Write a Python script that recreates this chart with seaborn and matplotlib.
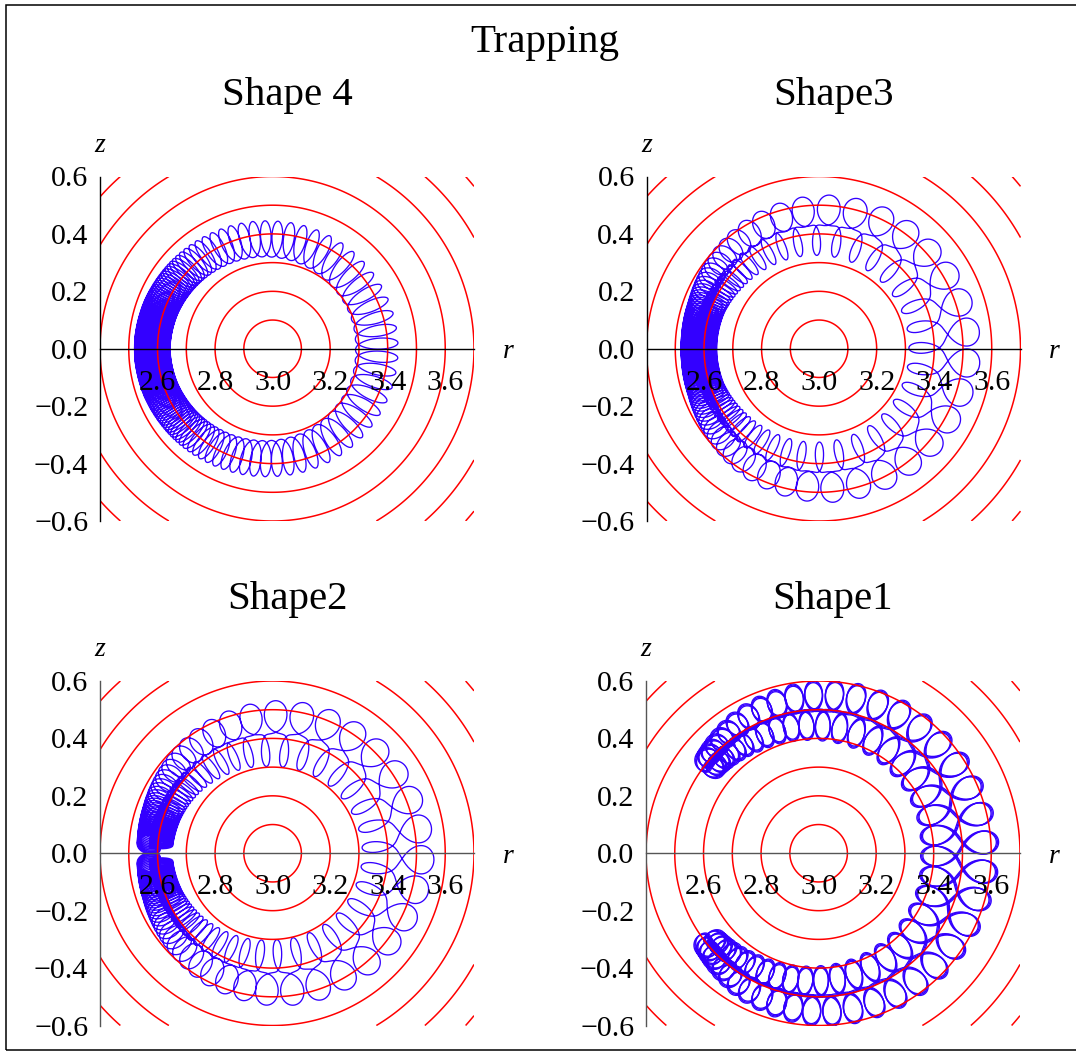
import numpy as np
import pandas as pd
import seaborn as sns
import matplotlib.pyplot as plt
from matplotlib.patches import Rectangle
from matplotlib.ticker import FixedLocator, FuncFormatter

# red contour rings around the trap centre (r0, 0)
ring_center = 3.0
ring_radii = [0.1, 0.2, 0.3, 0.4, 0.5, 0.6, 0.7, 0.8, 0.9, 1.0]

panel_titles = ["Shape 4", "Shape3", "Shape2", "Shape1"]
x_ticks = [2.6, 2.8, 3.0, 3.2, 3.4, 3.6]
y_ticks = [-0.6, -0.4, -0.2, 0.0, 0.2, 0.4, 0.6]

# orbit read-off, per |angle| round the ring centre (deg)
knot_deg = [0, 45, 90, 120, 140, 160, 175, 180]

# Shape 4: plain loops, slowing down on the inner (left) side
s4_guide = [0.362, 0.368, 0.382, 0.395, 0.405, 0.414, 0.418, 0.418]
s4_bounce = [0, 0, 0, 0, 0, 0, 0, 0]
s4_rad = [0.074, 0.070, 0.063, 0.062, 0.062, 0.062, 0.062, 0.062]
s4_tan = [0.030, 0.029, 0.028, 0.025, 0.024, 0.024, 0.024, 0.024]
s4_step = [7.0, 6.6, 5.8, 3.8, 1.5, 0.8, 0.55, 0.55]
s4_spans = [(180, 540, 0.0)]

# Shape 3: outer / inner loops alternate
s3_guide = [0.437, 0.434, 0.430, 0.425, 0.420, 0.418, 0.418, 0.418]
s3_bounce = [0.075, 0.065, 0.050, 0.040, 0.030, 0.015, 0.012, 0.012]
s3_rad = [0.050, 0.052, 0.055, 0.053, 0.050, 0.050, 0.050, 0.050]
s3_tan = [0.045, 0.041, 0.036, 0.031, 0.027, 0.025, 0.025, 0.025]
s3_step = [6.0, 5.7, 5.3, 3.2, 1.4, 0.5, 0.32, 0.32]
s3_spans = [(180, 540, 0.0)]

# Shape 2: same kind, but turns back just before the axis on the left
s2_guide = [0.437, 0.428, 0.416, 0.414, 0.412, 0.410, 0.410, 0.410]
s2_bounce = [0.075, 0.068, 0.060, 0.045, 0.032, 0.018, 0.012, 0.012]
s2_rad = [0.050, 0.053, 0.055, 0.053, 0.050, 0.050, 0.050, 0.050]
s2_tan = [0.045, 0.041, 0.036, 0.031, 0.027, 0.025, 0.025, 0.025]
s2_step = [6.0, 5.7, 5.3, 3.2, 1.4, 0.5, 0.32, 0.32]
s2_spans = [(-176, 176, 0.0)]

# Shape 1: wide band, two clusters at the turning points
s1_guide = [0.487, 0.490, 0.494, 0.490, 0.485, 0.480, 0.480, 0.480]
s1_bounce = [0.080, 0.065, 0.050, 0.035, 0.015, 0.015, 0.015, 0.015]
s1_rad = [0.053, 0.052, 0.052, 0.046, 0.040, 0.040, 0.040, 0.040]
s1_tan = [0.048, 0.043, 0.036, 0.037, 0.040, 0.040, 0.040, 0.040]
s1_step = [5.1, 4.5, 3.7, 2.5, 0.8, 0.8, 0.8, 0.8]
s1_spans = [(-141, 141, 0.0), (-141, 141, 0.004), (-141, 141, 0.008)]

loop_mod = [0.0, 0.4, 0.4, 0.1]
alternate = [False, True, True, True]

W, H = 1076, 1052
# axes boxes in pixels: left, top, right, bottom
boxes = [(100, 176.5, 474, 521), (646.5, 176.5, 1020.5, 521),
         (100, 681, 474, 1025.5), (646, 681, 1020, 1025.5)]
axis_colors = ["black", "black", "#555555", "#555555"]


def fold(ang):
    return np.abs((np.asarray(ang) + 180) % 360 - 180)


def trace(guide, bounce, rad, tan, step, m, alt, spans, n=72):
    rows = []
    for p, (start, end, shift) in enumerate(spans):
        sgn = 1 if end > start else -1
        th, k = start, 0
        phis, angs = [], []
        while sgn * (end - th) > 0:
            d = np.interp(fold(th), knot_deg, step)
            d = min(d, abs(end - th))
            frac = np.arange(n) / n
            phis.append(2 * np.pi * (k + frac))
            angs.append(th + sgn * d * frac)
            th += sgn * d
            k += 1
        phi = np.concatenate(phis)
        ang = np.concatenate(angs)
        a = fold(ang)
        g = np.interp(a, knot_deg, guide) + shift
        b = np.interp(a, knot_deg, bounce)
        if alt:
            c = np.tanh(2.5 * np.cos((phi - np.pi) / 2)) / np.tanh(2.5)
        else:
            c = np.ones_like(phi)
        ra = g + c * (b - np.interp(a, knot_deg, rad) * np.cos(phi))
        ta = np.interp(a, knot_deg, tan) * (1 + m * c) * np.sin(phi) * sgn
        t = np.radians(ang)
        r = ring_center + ra * np.cos(t) - ta * np.sin(t)
        z = ra * np.sin(t) + ta * np.cos(t)
        rows.append(pd.DataFrame({"r": r, "z": z, "pass": p}))
    return pd.concat(rows, ignore_index=True)


orbits = [
    trace(s4_guide, s4_bounce, s4_rad, s4_tan, s4_step, loop_mod[0], alternate[0], s4_spans),
    trace(s3_guide, s3_bounce, s3_rad, s3_tan, s3_step, loop_mod[1], alternate[1], s3_spans),
    trace(s2_guide, s2_bounce, s2_rad, s2_tan, s2_step, loop_mod[2], alternate[2], s2_spans),
    trace(s1_guide, s1_bounce, s1_rad, s1_tan, s1_step, loop_mod[3], alternate[3], s1_spans),
]

sns.set_style("white")
plt.rcParams["font.family"] = ["Liberation Serif", "DejaVu Serif"]
plt.rcParams["axes.unicode_minus"] = True
plt.rcParams["text.color"] = "black"

fig = plt.figure(figsize=(W / 100, H / 100), dpi=100)
fig.patches.append(Rectangle((6 / W, 1 - 1050 / H), (1085 - 6) / W, (1050 - 5) / H,
                             transform=fig.transFigure, fill=False,
                             edgecolor="black", linewidth=1.1))
fig.text(545 / W, 1 - 51.7 / H, "Trapping", ha="center", va="baseline", fontsize=29.5)

gr = np.linspace(2.4, 3.7, 700)
gz = np.linspace(-0.6, 0.6, 700)
R, Z = np.meshgrid(gr, gz)
dist = np.hypot(R - ring_center, Z)

fmt = FuncFormatter(lambda v, _: f"{v:.1f}".replace("-", "\u2212"))

for i, (box, orbit) in enumerate(zip(boxes, orbits)):
    left, top, right, bottom = box
    ax = fig.add_axes([left / W, 1 - bottom / H, (right - left) / W, (bottom - top) / H])
    ax.set_facecolor("none")
    sns.lineplot(data=orbit, x="r", y="z", units="pass", estimator=None, sort=False,
                 color="#3300ff", linewidth=0.95, ax=ax, zorder=2)
    ax.contour(R, Z, dist, levels=ring_radii, colors="red", linewidths=1.1, zorder=2.2)
    ax.set_xlim(2.4, 3.7)
    ax.set_ylim(-0.6, 0.6)
    ax.set_xlabel("")
    ax.set_ylabel("")

    col = axis_colors[i]
    for s in ["top", "right"]:
        ax.spines[s].set_visible(False)
    ax.spines["bottom"].set_position(("data", 0))
    ax.spines["bottom"].set_color(col)
    ax.spines["left"].set_color(col)
    ax.spines["bottom"].set_linewidth(1.0)
    ax.spines["left"].set_linewidth(1.0)
    ax.set_axisbelow(False)

    ax.xaxis.set_major_locator(FixedLocator(x_ticks))
    ax.xaxis.set_minor_locator(FixedLocator(np.round(np.arange(2.45, 3.71, 0.05), 2)))
    ax.yaxis.set_major_locator(FixedLocator(y_ticks))
    ax.yaxis.set_minor_locator(FixedLocator(np.round(np.arange(-0.6, 0.61, 0.05), 2)))
    ax.xaxis.set_major_formatter(fmt)
    ax.yaxis.set_major_formatter(fmt)
    ax.tick_params(axis="x", which="major", direction="in", length=4.0, width=0.8,
                   color=col, pad=15, labelsize=21.5, labelcolor="black")
    ax.tick_params(axis="y", which="major", direction="in", length=4.0, width=0.8,
                   color=col, pad=8.5, labelsize=21.5, labelcolor="black")
    ax.tick_params(which="minor", direction="in", length=2.4, width=0.7, color=col)

    cx = (left + right) / 2
    fig.text(cx / W, 1 - (top - 71.5) / H, panel_titles[i], ha="center",
             va="baseline", fontsize=29.5)
    fig.text(left / W, 1 - (top - 24.5) / H, "z", ha="center", va="baseline",
             fontsize=20, style="italic")
    zero_y = (top + bottom) / 2
    fig.text((right + 34) / W, 1 - (zero_y + 9.5) / H, "r", ha="center",
             va="baseline", fontsize=20, style="italic")

fig.savefig("out.png", dpi=100)
